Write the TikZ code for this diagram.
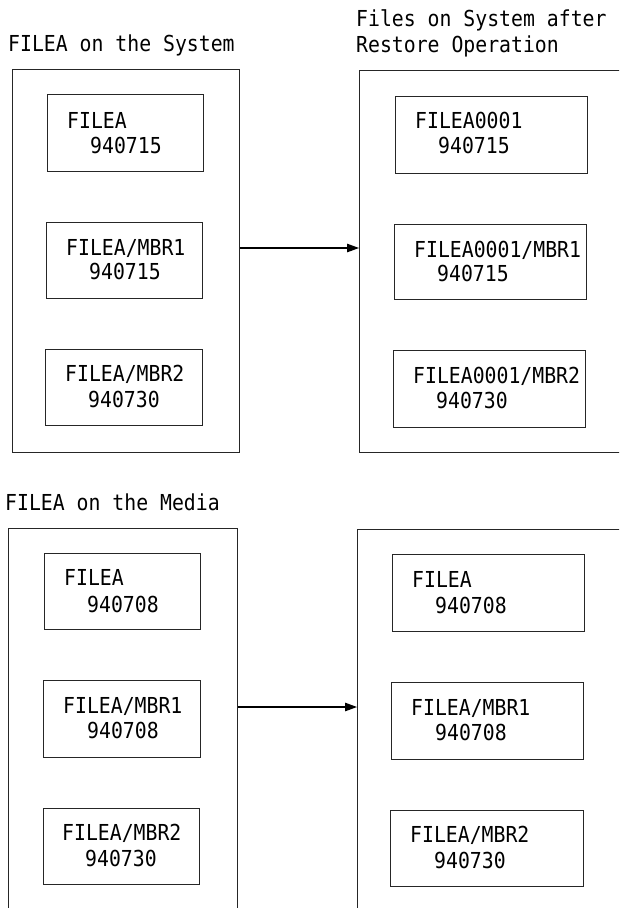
\documentclass[tikz,border=0pt]{standalone}
\usepackage{fontspec}
\setmainfont[FakeStretch=0.9]{DejaVu Sans Mono}
\usetikzlibrary{arrows.meta}
\tikzset{
  box/.style={draw=black!85, line width=1.2pt, anchor=north west, inner sep=0pt},
  txt/.style={anchor=base west, inner sep=0pt, font=\fontsize{22}{26}\selectfont},
  conn/.style={line width=1.1pt, -{Triangle[length=12pt,width=8.5pt]}}
}
\begin{document}
\begin{tikzpicture}[x=1pt,y=-1pt]
\clip (0,0) rectangle (619,908);
\fill[white] (0,0) rectangle (619,908);
% titles
\node[txt] (t1) at (8,51) {FILEA on the System};
\node[txt] (t2a) at (356,26) {Files on System after};
\node[txt] (t2b) at (356,52) {Restore Operation};
\node[txt] (t3) at (5,510) {FILEA on the Media};
% outer boxes
\node[box, minimum width=227pt, minimum height=383pt] (o1) at (12,69) {};
\node[box, minimum width=280pt, minimum height=382pt] (o2) at (359,70) {};
\node[box, minimum width=229pt, minimum height=400pt] (o3) at (8,528) {};
\node[box, minimum width=280pt, minimum height=400pt] (o4) at (357,529) {};
% inner boxes top-left
\node[box, minimum width=156pt, minimum height=77pt] (b11) at (47,94) {};
\node[box, minimum width=156pt, minimum height=76pt] (b12) at (46,222) {};
\node[box, minimum width=157pt, minimum height=76pt] (b13) at (45,349) {};
\node[txt] (n11) at (67,128) {FILEA};
\node[txt] (d11) at (90,153) {940715};
\node[txt] (n12) at (66,255) {FILEA/MBR1};
\node[txt] (d12) at (89,279) {940715};
\node[txt] (n13) at (65,381) {FILEA/MBR2};
\node[txt] (d13) at (88,407) {940730};
% inner boxes top-right
\node[box, minimum width=192pt, minimum height=77pt] (b21) at (395,96) {};
\node[box, minimum width=192pt, minimum height=75pt] (b22) at (394,224) {};
\node[box, minimum width=192pt, minimum height=77pt] (b23) at (393,350) {};
\node[txt] (n21) at (415,128) {FILEA0001};
\node[txt] (d21) at (438,153) {940715};
\node[txt] (n22) at (414,257) {FILEA0001/MBR1};
\node[txt] (d22) at (437,281) {940715};
\node[txt] (n23) at (413,383) {FILEA0001/MBR2};
\node[txt] (d23) at (436,408) {940730};
% inner boxes bottom-left
\node[box, minimum width=156pt, minimum height=76pt] (b31) at (44,553) {};
\node[box, minimum width=157pt, minimum height=77pt] (b32) at (43,680) {};
\node[box, minimum width=156pt, minimum height=76pt] (b33) at (43,808) {};
\node[txt] (n31) at (64,585) {FILEA};
\node[txt] (d31) at (87,612) {940708};
\node[txt] (n32) at (63,713) {FILEA/MBR1};
\node[txt] (d32) at (87,738) {940708};
\node[txt] (n33) at (62,840) {FILEA/MBR2};
\node[txt] (d33) at (85,866) {940730};
% inner boxes bottom-right
\node[box, minimum width=192pt, minimum height=77pt] (b41) at (392,554) {};
\node[box, minimum width=192pt, minimum height=77pt] (b42) at (391,682) {};
\node[box, minimum width=193pt, minimum height=76pt] (b43) at (390,810) {};
\node[txt] (n41) at (412,587) {FILEA};
\node[txt] (d41) at (435,613) {940708};
\node[txt] (n42) at (411,715) {FILEA/MBR1};
\node[txt] (d42) at (435,740) {940708};
\node[txt] (n43) at (410,842) {FILEA/MBR2};
\node[txt] (d43) at (434,868) {940730};
% connectors
\coordinate (y1) at (0,248);
\coordinate (y2) at (0,707);
\draw[conn] (o1.east |- y1) -- (o2.west |- y1);
\draw[conn] (o3.east |- y2) -- (o4.west |- y2);
\end{tikzpicture}
\end{document}
